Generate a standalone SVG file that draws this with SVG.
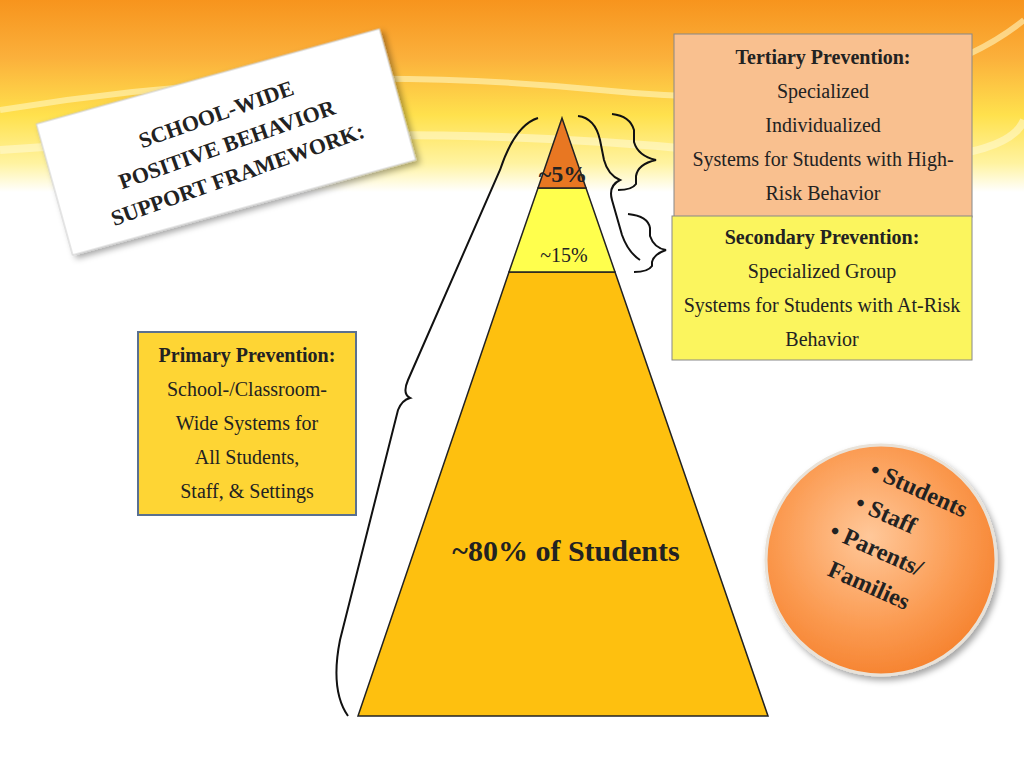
<svg xmlns="http://www.w3.org/2000/svg" width="1024" height="768" viewBox="0 0 1024 768">
<defs>
<linearGradient id="bg" x1="0" y1="0" x2="0" y2="1">
<stop offset="0" stop-color="#f7941d"/><stop offset="0.3" stop-color="#fbb03b"/><stop offset="0.6" stop-color="#ffe14d"/><stop offset="0.85" stop-color="#fff3a0"/><stop offset="1" stop-color="#ffffff"/>
</linearGradient>
<radialGradient id="circ" cx="0.45" cy="0.4" r="0.65">
<stop offset="0" stop-color="#ffc89a"/><stop offset="0.6" stop-color="#fb9b52"/><stop offset="1" stop-color="#f57f2a"/>
</radialGradient>
<filter id="sh" x="-20%" y="-20%" width="140%" height="140%"><feDropShadow dx="3" dy="4" stdDeviation="3" flood-opacity="0.35"/></filter>
<style>
text{font-family:"Liberation Serif","DejaVu Serif",serif;fill:#222}
.t{font-size:20px;text-anchor:middle}
.b{font-weight:bold}
.br{fill:none;stroke:#111;stroke-width:2}
</style>
</defs>
<rect width="1024" height="768" fill="#fff"/>
<rect width="1024" height="192" fill="url(#bg)"/>
<path d="M0 110 Q300 60 600 90 T1024 20" stroke="#fff6c0" stroke-width="6" fill="none" opacity="0.6"/>
<path d="M0 150 Q400 120 700 150 T1024 120" stroke="#fffbe0" stroke-width="8" fill="none" opacity="0.5"/>

<g id="card" transform="translate(226,142) rotate(-15.5)">
<rect x="-178" y="-68" width="356" height="136" fill="#fff" stroke="#ccc" filter="url(#sh)"/>
<g transform="rotate(-4)">
<text class="b" x="0" y="-22" font-size="22" text-anchor="middle">SCHOOL-WIDE</text>
<text class="b" x="0" y="10" font-size="22" text-anchor="middle">POSITIVE BEHAVIOR</text>
<text class="b" x="0" y="42" font-size="22" text-anchor="middle">SUPPORT FRAMEWORK:</text>
</g>
</g>

<g id="pyramid">
<polygon points="358,716 768,716 615,272 509,272" fill="#fec00f" stroke="#222" stroke-width="1.5"/>
<polygon points="509,272 615,272 586,188 538,188" fill="#ffff4d" stroke="#222" stroke-width="1.5"/>
<polygon points="538,188 586,188 562,118" fill="#e87722" stroke="#222" stroke-width="1.5"/>
<text class="b" x="563" y="182" font-size="24" text-anchor="middle">~5%</text>
<text x="564" y="262" font-size="20" text-anchor="middle">~15%</text>
<text class="b" x="566" y="561" font-size="30" text-anchor="middle">~80% of Students</text>
</g>

<g id="tertiary">
<rect x="674" y="34" width="298" height="183" fill="#f9c08f" stroke="#888"/>
<text class="t b" x="823" y="64">Tertiary Prevention:</text>
<text class="t" x="823" y="98">Specialized</text>
<text class="t" x="823" y="132">Individualized</text>
<text class="t" x="823" y="166">Systems for Students with High-</text>
<text class="t" x="823" y="200">Risk Behavior</text>
</g>
<g id="secondary">
<rect x="672" y="216" width="300" height="144" fill="#fbf55e" stroke="#888"/>
<text class="t b" x="822" y="244">Secondary Prevention:</text>
<text class="t" x="822" y="278">Specialized Group</text>
<text class="t" x="822" y="312">Systems for Students with At-Risk</text>
<text class="t" x="822" y="346">Behavior</text>
</g>
<g id="primary">
<rect x="138" y="332" width="218" height="183" fill="#fed534" stroke="#5a7090" stroke-width="2"/>
<text class="t b" x="247" y="362">Primary Prevention:</text>
<text class="t" x="247" y="396">School-/Classroom-</text>
<text class="t" x="247" y="430">Wide Systems for</text>
<text class="t" x="247" y="464">All Students,</text>
<text class="t" x="247" y="498">Staff, &amp; Settings</text>
</g>

<g id="circle">
<circle cx="881" cy="560" r="115" fill="url(#circ)" stroke="#e9e2d8" stroke-width="3" filter="url(#sh)"/>
<g transform="translate(881,560) rotate(24)">
<text class="b" x="-46" y="-72" font-size="24">• Students</text>
<text class="b" x="-46" y="-36" font-size="24">• Staff</text>
<text class="b" x="-58" y="0" font-size="24">• Parents/</text>
<text class="b" x="-44" y="36" font-size="24">Families</text>
</g>
</g>

<g id="connectors">
<path class="br" d="M348 716 Q330 690 340 640 L398 410 Q402 400 410 398 Q402 394 408 380 L500 170 Q515 125 538 118"/>
<path class="br" d="M578 116 Q595 118 600 140 L604 160 Q608 175 620 180 Q608 186 612 200 L622 235 Q628 252 640 260"/>
<path class="br" d="M612 114 Q630 116 634 130 L634 142 Q638 156 656 160 Q638 164 636 176 L636 184 Q632 190 618 190"/>
<path class="br" d="M628 214 Q648 216 650 228 L650 236 Q654 248 666 250 Q654 254 652 262 L652 266 Q648 272 634 272"/>
</g>
</svg>
